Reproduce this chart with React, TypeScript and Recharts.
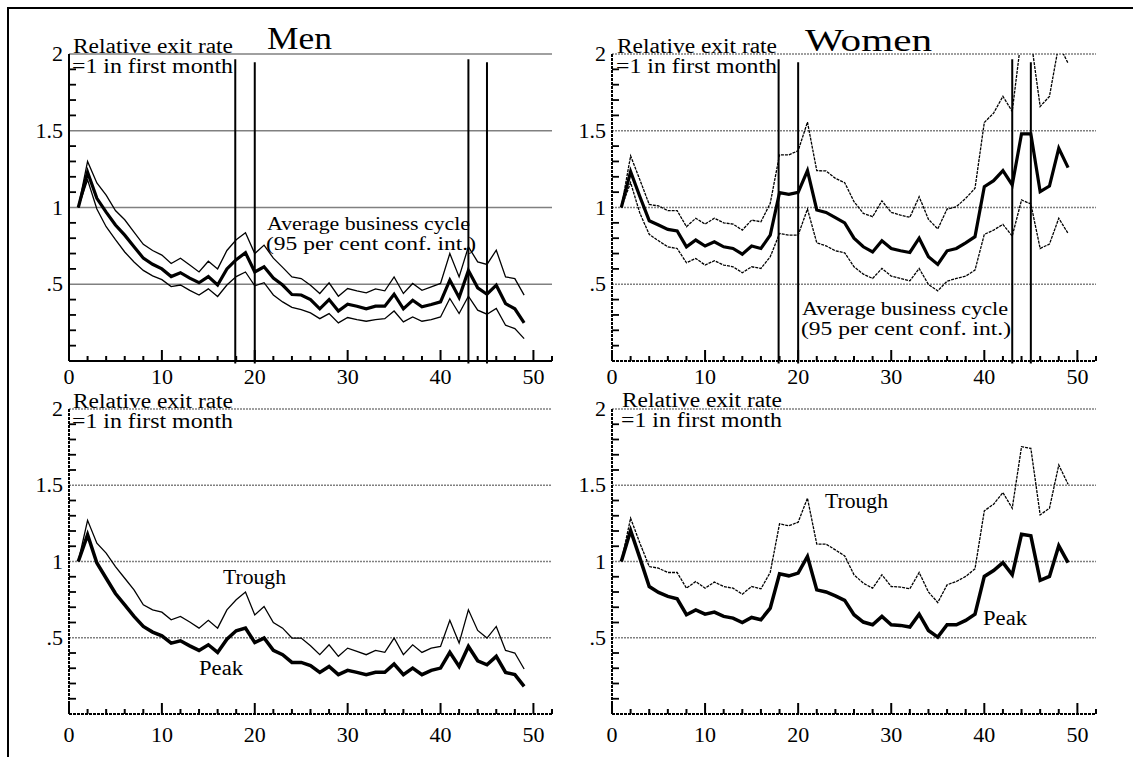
import React from 'react';
import { LineChart, Line, XAxis, YAxis, ReferenceLine } from 'recharts';

const FONT = 'Liberation Serif, Times New Roman, DejaVu Serif, serif';

// Months (x categories)
const months = [
  1, 2, 3, 4, 5, 6, 7, 8, 9, 10, 11, 12, 13, 14, 15, 16, 17, 18, 19, 20,
  21, 22, 23, 24, 25, 26, 27, 28, 29, 30, 31, 32, 33, 34, 35, 36, 37, 38, 39, 40,
  41, 42, 43, 44, 45, 46, 47, 48, 49,
];

// Men: average business cycle with 95% CI
const menAvg = [
  1.0, 1.23, 1.06, 0.97, 0.886, 0.82, 0.745, 0.67, 0.63, 0.6,
  0.55, 0.575, 0.54, 0.51, 0.55, 0.495, 0.6, 0.66, 0.705, 0.58,
  0.614, 0.54, 0.495, 0.433, 0.43, 0.4, 0.34, 0.4, 0.325, 0.37,
  0.357, 0.34, 0.357, 0.357, 0.435, 0.34, 0.396, 0.353, 0.368, 0.385,
  0.527, 0.413, 0.59, 0.477, 0.435, 0.494, 0.374, 0.34, 0.248,
];
const menUpper = [
  1.0, 1.3, 1.16, 1.08, 0.98, 0.92, 0.84, 0.76, 0.72, 0.69,
  0.635, 0.67, 0.625, 0.58, 0.65, 0.6, 0.72, 0.79, 0.835, 0.7,
  0.755, 0.67, 0.61, 0.548, 0.537, 0.494, 0.44, 0.509, 0.422, 0.472,
  0.457, 0.444, 0.47, 0.457, 0.548, 0.44, 0.505, 0.46, 0.483, 0.505,
  0.7, 0.548, 0.744, 0.646, 0.629, 0.722, 0.548, 0.537, 0.429,
];
const menLower = [
  1.0, 1.18, 0.99, 0.875, 0.79, 0.71, 0.645, 0.59, 0.555, 0.53,
  0.485, 0.495, 0.46, 0.43, 0.47, 0.42, 0.495, 0.55, 0.58, 0.49,
  0.51, 0.43, 0.385, 0.35, 0.335, 0.313, 0.276, 0.309, 0.248, 0.283,
  0.27, 0.259, 0.27, 0.276, 0.326, 0.255, 0.287, 0.259, 0.27, 0.287,
  0.407, 0.309, 0.422, 0.331, 0.305, 0.342, 0.233, 0.211, 0.146,
];

// Women: average business cycle with 95% CI
const womenAvg = [
  1.0, 1.234, 1.07, 0.914, 0.886, 0.857, 0.847, 0.744, 0.788, 0.749,
  0.777, 0.744, 0.733, 0.696, 0.749, 0.733, 0.82, 1.097, 1.086, 1.099,
  1.24, 0.984, 0.968, 0.934, 0.9, 0.8, 0.744, 0.71, 0.783, 0.733,
  0.718, 0.707, 0.8, 0.679, 0.629, 0.718, 0.733, 0.77, 0.81, 1.136,
  1.175, 1.24, 1.147, 1.48, 1.48, 1.103, 1.14, 1.386, 1.26,
];
const womenUpper = [
  1.0, 1.336, 1.18, 1.02, 1.01, 0.98, 0.98, 0.875, 0.93, 0.892,
  0.93, 0.9, 0.892, 0.853, 0.918, 0.907, 1.027, 1.343, 1.343, 1.37,
  1.556, 1.24, 1.238, 1.19, 1.162, 1.038, 0.962, 0.94, 1.043, 0.968,
  0.951, 0.936, 1.07, 0.923, 0.86, 0.99, 1.005, 1.06, 1.125, 1.554,
  1.615, 1.724, 1.626, 2.12, 2.1, 1.658, 1.724, 2.06, 1.94,
];
const womenLower = [
  1.0, 1.162, 0.962, 0.825, 0.783, 0.744, 0.733, 0.64, 0.668, 0.625,
  0.653, 0.625, 0.614, 0.575, 0.614, 0.603, 0.679, 0.831, 0.82, 0.82,
  0.99, 0.77, 0.75, 0.718, 0.705, 0.614, 0.566, 0.538, 0.603, 0.553,
  0.538, 0.522, 0.603, 0.498, 0.457, 0.52, 0.538, 0.553, 0.592, 0.825,
  0.853, 0.89, 0.814, 1.049, 1.023, 0.733, 0.762, 0.93, 0.831,
];

// Men: trough vs peak
const menTrough = [
  1.0, 1.27, 1.12, 1.055, 0.967, 0.89, 0.814, 0.716, 0.683, 0.668,
  0.618, 0.64, 0.603, 0.563, 0.614, 0.563, 0.683, 0.749, 0.8, 0.65,
  0.705, 0.6, 0.563, 0.498, 0.498, 0.448, 0.389, 0.454, 0.378, 0.432,
  0.41, 0.389, 0.417, 0.404, 0.498, 0.389, 0.454, 0.404, 0.432, 0.443,
  0.614, 0.465, 0.683, 0.548, 0.498, 0.574, 0.417, 0.4, 0.295,
];
const menPeak = [
  1.0, 1.175, 0.99, 0.89, 0.79, 0.716, 0.64, 0.574, 0.537, 0.513,
  0.465, 0.48, 0.447, 0.417, 0.454, 0.404, 0.491, 0.546, 0.563, 0.469,
  0.498, 0.417, 0.389, 0.338, 0.338, 0.317, 0.273, 0.312, 0.258, 0.286,
  0.273, 0.258, 0.273, 0.273, 0.328, 0.258, 0.301, 0.258, 0.286, 0.301,
  0.404, 0.312, 0.443, 0.349, 0.323, 0.378, 0.273, 0.258, 0.181,
];

// Women: trough vs peak
const womenTrough = [
  1.0, 1.284, 1.12, 0.967, 0.956, 0.928, 0.928, 0.825, 0.869, 0.825,
  0.865, 0.836, 0.825, 0.786, 0.836, 0.821, 0.928, 1.247, 1.234, 1.258,
  1.415, 1.114, 1.114, 1.076, 1.037, 0.913, 0.858, 0.825, 0.913, 0.836,
  0.832, 0.821, 0.928, 0.8, 0.731, 0.847, 0.869, 0.902, 0.952, 1.332,
  1.376, 1.452, 1.349, 1.753, 1.742, 1.306, 1.349, 1.633, 1.507,
];
const womenPeak = [
  1.0, 1.203, 1.022, 0.836, 0.797, 0.771, 0.755, 0.651, 0.683, 0.655,
  0.668, 0.64, 0.629, 0.6, 0.633, 0.618, 0.694, 0.919, 0.906, 0.924,
  1.033, 0.814, 0.8, 0.775, 0.745, 0.651, 0.603, 0.585, 0.64, 0.585,
  0.581, 0.57, 0.655, 0.548, 0.504, 0.585, 0.585, 0.614, 0.655, 0.902,
  0.941, 0.993, 0.913, 1.179, 1.168, 0.876, 0.902, 1.103, 0.993,
];

// Axis ticks
const xTicks = [0, 2, 4, 6, 8, 10, 12, 14, 16, 18, 20, 22, 24, 26, 28, 30, 32, 34, 36, 38, 40, 42, 44, 46, 48, 50, 52];
const xMajor = [0, 10, 20, 30, 40, 50];
const yTicks = [0.1, 0.2, 0.3, 0.4, 0.5, 0.6, 0.7, 0.8, 0.9, 1, 1.1, 1.2, 1.3, 1.4, 1.5, 1.6, 1.7, 1.8, 1.9, 2];
const yLabelValues = [0.5, 1, 1.5, 2];
const yLabelTexts = ['.5', '1', '1.5', '2'];
const gridValues = [0.5, 1, 1.5, 2];

// Business-cycle marker months (pairs: start line, end line)
const cycleStarts = [17.9, 43];
const cycleEnds = [20, 45];

const buildRows = (a: number[], b: number[], c?: number[]) =>
  months.map((m, i) => ({ m, a: a[i], b: b[i], c: c ? c[i] : undefined }));

const YTick = (props: any) => {
  const { x, y, payload } = props;
  const v = payload.value;
  const idx = yLabelValues.findIndex((t) => Math.abs(t - v) < 1e-6);
  const axisX = x + 6;
  return (
    <g>
      {idx < 0 && <line x1={axisX} x2={axisX + 7} y1={y} y2={y} stroke="#000" strokeWidth={1.8} />}
      {idx >= 0 && (
        <text
          transform={`translate(${x},${y + 7}) scale(1.1,1)`}
          textAnchor="end"
          fontSize={20}
          style={{ fontFamily: FONT }}
          fill="#000"
        >
          {yLabelTexts[idx]}
        </text>
      )}
    </g>
  );
};

const makeXTick = (labelDy: number) => (props: any) => {
  const { x, y, payload } = props;
  const v = payload.value;
  const major = xMajor.includes(v);
  const len = major ? 11 : 5;
  return (
    <g>
      <line x1={x} x2={x} y1={y} y2={y - len} stroke="#000" strokeWidth={2} />
      {major && (
        <text
          transform={`translate(${x},${y + labelDy}) scale(1.1,1)`}
          textAnchor="middle"
          fontSize={20}
          style={{ fontFamily: FONT }}
          fill="#000"
        >
          {String(v)}
        </text>
      )}
    </g>
  );
};

type SeriesDef = { key: string; width: number; dash?: string };

type PanelProps = {
  left: number;
  top: number;
  width: number;
  height: number;
  plotLeft: number;
  plotTop: number;
  plotW: number;
  plotH: number;
  data: any[];
  series: SeriesDef[];
  solidAxes: boolean;
  showCycle: boolean;
  labelDy: number;
};

function Panel(p: PanelProps) {
  const yAxisW = p.plotLeft - p.left;
  const mTop = p.plotTop - p.top;
  const mRight = p.left + p.width - p.plotLeft - p.plotW;
  const xAxisH = p.top + p.height - p.plotTop - p.plotH;
  const axisStyle = p.solidAxes
    ? { stroke: '#000', strokeWidth: 2 }
    : { stroke: '#000', strokeWidth: 2, strokeDasharray: '3 1' };
  const gridStyle = p.solidAxes
    ? { stroke: '#808080', strokeWidth: 1.4 }
    : { stroke: '#808080', strokeWidth: 1.4, strokeDasharray: '2 1' };
  return (
    <div style={{ position: 'absolute', left: p.left, top: p.top, width: p.width, height: p.height }}>
      <LineChart
        width={p.width}
        height={p.height}
        data={p.data}
        margin={{ top: mTop, right: mRight, bottom: 0, left: 0 }}
      >
        <XAxis
          dataKey="m"
          type="number"
          domain={[0, 52]}
          ticks={xTicks}
          interval={0}
          height={xAxisH}
          tickSize={0}
          tickMargin={0}
          tickLine={false}
          axisLine={axisStyle}
          tick={makeXTick(p.labelDy)}
          allowDataOverflow
        />
        <YAxis
          type="number"
          domain={[0, 2]}
          ticks={yTicks}
          interval={0}
          width={yAxisW}
          tickSize={0}
          tickMargin={6}
          tickLine={false}
          axisLine={axisStyle}
          tick={YTick}
          allowDataOverflow
        />
        {gridValues.map((v) => (
          <ReferenceLine key={'g' + v} y={v} {...gridStyle} ifOverflow="visible" />
        ))}
        {p.showCycle &&
          cycleStarts.map((v) => (
            <ReferenceLine
              key={'cs' + v}
              segment={[{ x: v, y: -0.017 }, { x: v, y: 1.965 }]}
              stroke="#000"
              strokeWidth={2}
              ifOverflow="visible"
            />
          ))}
        {p.showCycle &&
          cycleEnds.map((v) => (
            <ReferenceLine
              key={'ce' + v}
              segment={[{ x: v, y: -0.017 }, { x: v, y: 1.946 }]}
              stroke="#000"
              strokeWidth={2}
              ifOverflow="visible"
            />
          ))}
        {p.series.map((s) => (
          <Line
            key={s.key}
            type="linear"
            dataKey={s.key}
            stroke="#000"
            strokeWidth={s.width}
            strokeDasharray={s.dash}
            dot={false}
            activeDot={false}
            isAnimationActive={false}
          />
        ))}
      </LineChart>
    </div>
  );
}

function T(props: { x: number; y: number; w: number; size?: number; children: string }) {
  return (
    <text
      x={props.x}
      y={props.y}
      fontSize={props.size || 20}
      style={{ fontFamily: FONT }}
      fill="#000"
      textLength={props.w}
      lengthAdjust="spacingAndGlyphs"
    >
      {props.children}
    </text>
  );
}

export default function App() {
  const menTop = buildRows(menAvg, menUpper, menLower);
  const womenTop = buildRows(womenAvg, womenUpper, womenLower);
  const menBottom = buildRows(menPeak, menTrough);
  const womenBottom = buildRows(womenPeak, womenTrough);

  const ciSolid: SeriesDef[] = [
    { key: 'b', width: 1.3 },
    { key: 'c', width: 1.3 },
    { key: 'a', width: 3.2 },
  ];
  const ciDotted: SeriesDef[] = [
    { key: 'b', width: 1.3, dash: '3 1' },
    { key: 'c', width: 1.3, dash: '3 1' },
    { key: 'a', width: 3.2 },
  ];
  const tpSolid: SeriesDef[] = [
    { key: 'b', width: 1.3 },
    { key: 'a', width: 3.5 },
  ];
  const tpDotted: SeriesDef[] = [
    { key: 'b', width: 1.3, dash: '3 1' },
    { key: 'a', width: 3.5 },
  ];

  return (
    <div
      style={{
        position: 'absolute',
        left: 0,
        top: 0,
        width: 1133,
        height: 757,
        background: '#fff',
        overflow: 'hidden',
        fontFamily: FONT,
      }}
    >
      <Panel left={0} top={0} width={566} height={395} plotLeft={69} plotTop={54} plotW={483} plotH={307}
        data={menTop} series={ciSolid} solidAxes={true} showCycle={true} labelDy={23} />
      <Panel left={566} top={0} width={567} height={395} plotLeft={612} plotTop={54} plotW={484} plotH={307}
        data={womenTop} series={ciDotted} solidAxes={false} showCycle={true} labelDy={23} />
      <Panel left={0} top={395} width={566} height={362} plotLeft={69} plotTop={409} plotW={483} plotH={305}
        data={menBottom} series={tpSolid} solidAxes={false} showCycle={false} labelDy={28} />
      <Panel left={566} top={395} width={567} height={362} plotLeft={612} plotTop={409} plotW={484} plotH={305}
        data={womenBottom} series={tpDotted} solidAxes={false} showCycle={false} labelDy={28} />

      <svg
        width={1133}
        height={757}
        style={{ position: 'absolute', left: 0, top: 0, pointerEvents: 'none' }}
      >
        <path d="M8 757 V8 H1133" fill="none" stroke="#000" strokeWidth={2} />

        <T x={267} y={49} w={65} size={32}>Men</T>
        <T x={805} y={51} w={127} size={32}>Women</T>

        <T x={73} y={53} w={160}>Relative exit rate</T>
        <T x={72} y={73} w={161}>=1 in first month</T>
        <T x={617} y={53} w={160}>Relative exit rate</T>
        <T x={616} y={73} w={161}>=1 in first month</T>
        <T x={73} y={408} w={160}>Relative exit rate</T>
        <T x={72} y={428} w={161}>=1 in first month</T>
        <T x={622} y={407} w={160}>Relative exit rate</T>
        <T x={621} y={427} w={161}>=1 in first month</T>

        <T x={267} y={230} w={203} size={19}>Average business cycle</T>
        <T x={266} y={250} w={210} size={19}>(95 per cent conf. int.)</T>
        <T x={802} y={315} w={206} size={19}>Average business cycle</T>
        <T x={801} y={335} w={210} size={19}>(95 per cent conf. int.)</T>

        <T x={223} y={584} w={63}>Trough</T>
        <T x={199} y={675} w={44}>Peak</T>
        <T x={825} y={508} w={63}>Trough</T>
        <T x={983} y={625} w={44}>Peak</T>
      </svg>
    </div>
  );
}
